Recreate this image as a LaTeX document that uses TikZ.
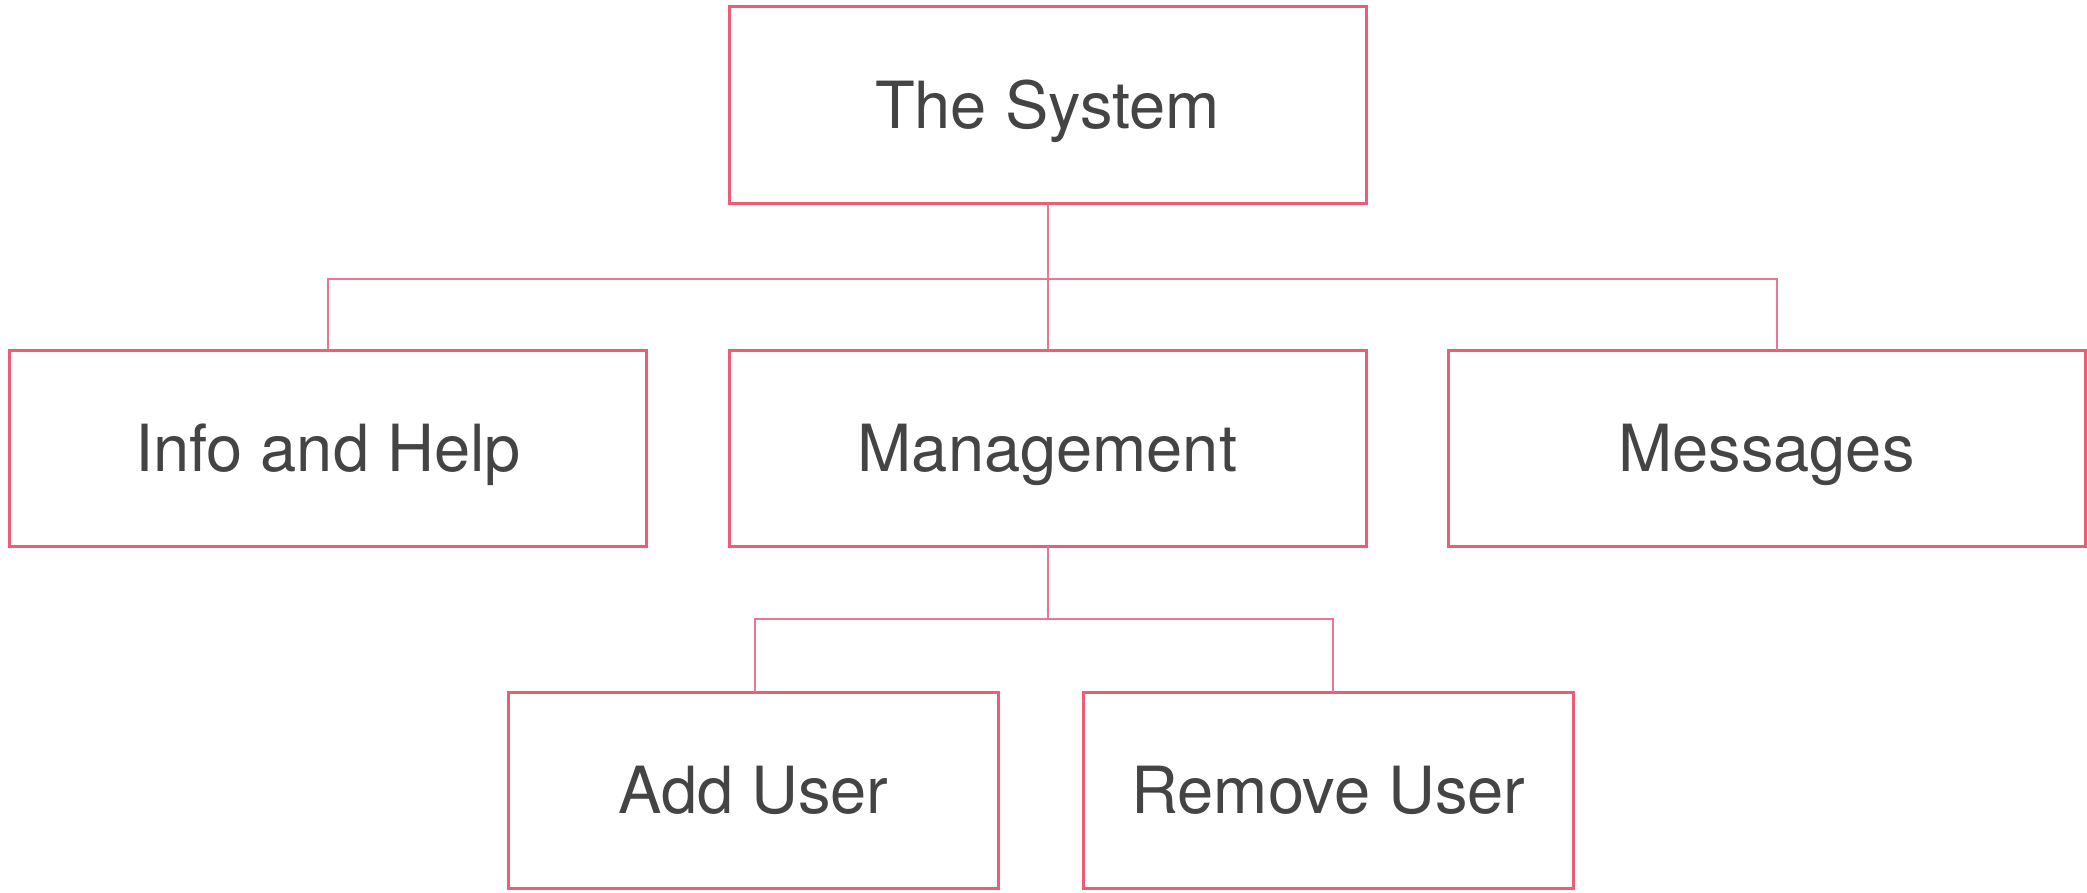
\documentclass[tikz,border=0pt]{standalone}
\usepackage{fontspec}
\setmainfont{TeX Gyre Heros}
\definecolor{boxred}{RGB}{238,92,118}
\definecolor{linered}{RGB}{234,118,146}
\definecolor{txtgray}{RGB}{68,68,68}
\tikzset{
  orgbox/.style={draw=boxred, line width=3pt, fill=white, rectangle, inner sep=0pt, outer sep=0pt,
    minimum height=196pt, text=txtgray, font=\fontsize{65}{72}\selectfont,
    text height=46pt, text depth=0pt},
  wide/.style={minimum width=637pt},
  narrow/.style={minimum width=490pt},
  conn/.style={draw=linered, line width=2pt}
}
\begin{document}
\begin{tikzpicture}[x=1pt,y=-1pt]
\useasboundingbox (0,0) rectangle (2087,893);
\node[orgbox,wide,minimum height=197pt] (sys) at (1047.5,105.5) {The System};
\node[orgbox,wide] (info) at (328,448) {Info and Help};
\node[orgbox,wide] (mgmt) at (1047.5,448) {Management};
\node[orgbox,wide] (msg) at (1766.5,448) {Messages};
\node[orgbox,narrow] (add) at (753.5,790) {Add User};
\node[orgbox,narrow] (rem) at (1328.5,790) {Remove User};
\coordinate (j1) at (1048,279);
\coordinate (j1r) at (1777,279);
\coordinate (j2) at (1048,619);
\coordinate (j2l) at (755,619);
\coordinate (j2r) at (1333,619);
\draw[conn] (sys.south -| j1) -- (mgmt.north -| j1);
\draw[conn] (info.north) |- (j1r) -- (msg.north -| j1r);
\draw[conn] (mgmt.south -| j2) -- (j2);
\draw[conn] (add.north -| j2l) |- (j2r) -- (rem.north -| j2r);
\end{tikzpicture}
\end{document}
